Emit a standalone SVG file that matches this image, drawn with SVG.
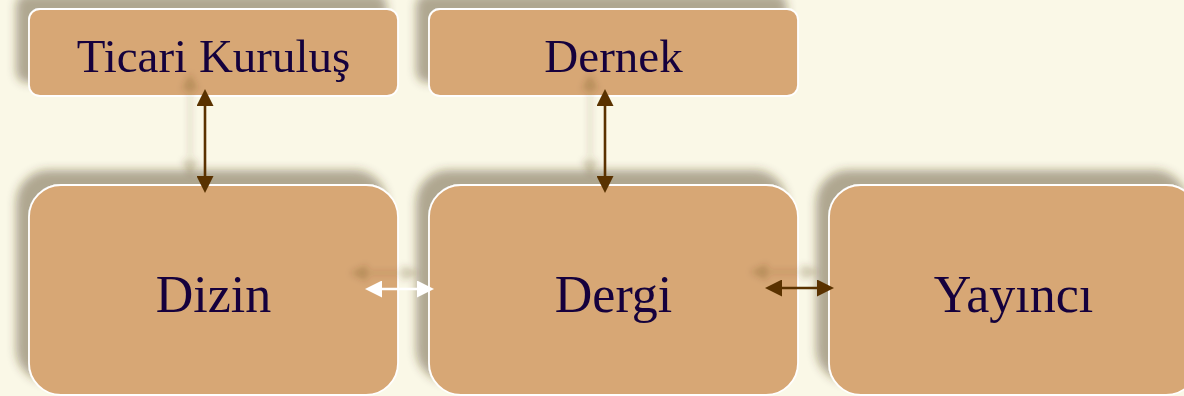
<svg xmlns="http://www.w3.org/2000/svg" width="1184" height="396" viewBox="0 0 1184 396">
<style>
.box{fill:#D7A775;stroke:#FFFFFF;stroke-width:1.8}
.lbl{font-family:"Liberation Serif","Times New Roman",serif;fill:#12063C;text-anchor:middle}
.top{font-size:47px}
.big{font-size:52px}
.con{fill:none;stroke-width:2.6}
.brown{stroke:#5A3300}
.white{stroke:#FFFFFF}
</style>
<defs>
<filter id="sh" x="-20%" y="-40%" width="140%" height="180%">
<feDropShadow dx="-12" dy="-14" stdDeviation="5" flood-color="#4A3418" flood-opacity="0.42"/>
</filter>
<filter id="shc" x="-50%" y="-50%" width="200%" height="200%">
<feDropShadow dx="-15" dy="-16" stdDeviation="3" flood-color="#4A3418" flood-opacity="0.22"/>
</filter>
<marker id="ab" markerUnits="userSpaceOnUse" markerWidth="17" markerHeight="17" refX="13" refY="8.5" orient="auto-start-reverse" viewBox="0 0 17 17">
<path d="M0,0 L17,8.5 L0,17 z" fill="#5A3300"/>
</marker>
<marker id="aw" markerUnits="userSpaceOnUse" markerWidth="17" markerHeight="17" refX="13" refY="8.5" orient="auto-start-reverse" viewBox="0 0 17 17">
<path d="M0,0 L17,8.5 L0,17 z" fill="#FFFFFF"/>
</marker>
</defs>
<rect x="0" y="0" width="1184" height="396" fill="#FAF8E7"/>
<g id="n-ticari" filter="url(#sh)">
<rect class="box" x="29" y="9" width="369" height="87" rx="11"/>
<text class="lbl top" x="213.5" y="72">Ticari Kuruluş</text>
</g>
<g id="n-dernek" filter="url(#sh)">
<rect class="box" x="429" y="9" width="369" height="87" rx="11"/>
<text class="lbl top" x="613.5" y="72">Dernek</text>
</g>
<g id="n-dizin" filter="url(#sh)">
<rect class="box" x="29" y="185" width="369" height="210" rx="32"/>
<text class="lbl big" x="213.5" y="312">Dizin</text>
</g>
<g id="n-dergi" filter="url(#sh)">
<rect class="box" x="429" y="185" width="369" height="210" rx="32"/>
<text class="lbl big" x="613.5" y="312">Dergi</text>
</g>
<g id="n-yayinci" filter="url(#sh)">
<rect class="box" x="829" y="185" width="369" height="210" rx="32"/>
<text class="lbl big" x="1013.5" y="312">Yayıncı</text>
</g>
<g id="connectors" filter="url(#shc)">
<path class="con brown" d="M205,93 L205,189" marker-start="url(#ab)" marker-end="url(#ab)"/>
<path class="con brown" d="M605,93 L605,189" marker-start="url(#ab)" marker-end="url(#ab)"/>
<path class="con white" d="M369,289 L430,289" marker-start="url(#aw)" marker-end="url(#aw)"/>
<path class="con brown" d="M769,288 L830,288" marker-start="url(#ab)" marker-end="url(#ab)"/>
</g>
</svg>
